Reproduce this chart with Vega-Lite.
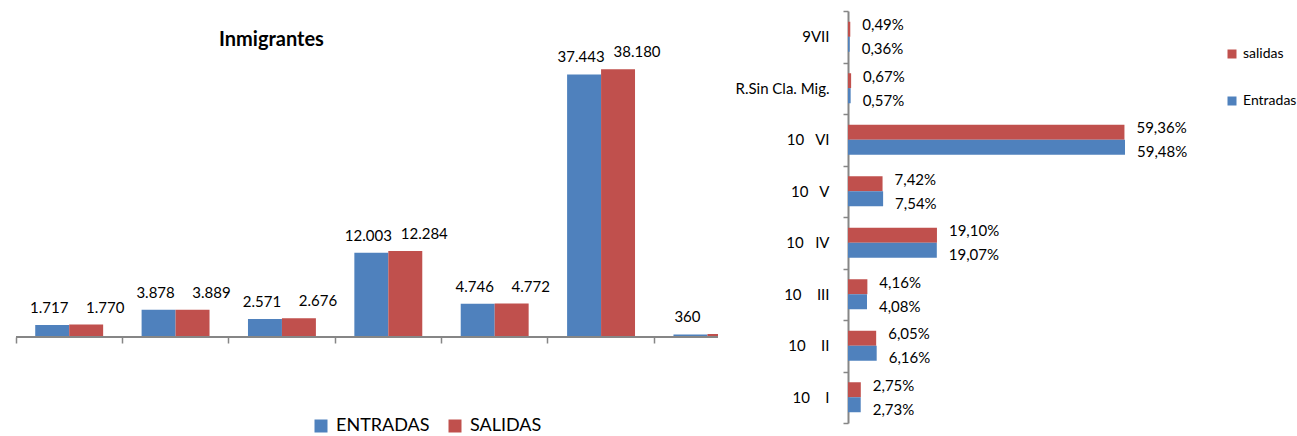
{
  "$schema": "https://vega.github.io/schema/vega-lite/v6.json",
  "padding": {"left": 15, "top": 4, "right": 0, "bottom": 0},
  "background": "white",
  "config": {
    "view": {"stroke": null},
    "font": "Lato",
    "locale": {"number": {"decimal": ",", "thousands": ".", "grouping": [3], "currency": ["", " €"]}}
  },
  "bounds": "flush",
  "spacing": 130,
  "resolve": {"scale": {"color": "independent"}, "legend": {"color": "independent"}},
  "hconcat": [
    {
      "width": 702,
      "height": 326,
      "title": {"text": "Inmigrantes", "anchor": "start", "dx": 204, "offset": -39, "fontSize": 20, "fontWeight": "bold", "font": "Lato", "color": "black"},
      "data": {"values": [
        {"grupo": "10 I", "serie": "ENTRADAS", "valor": 1717},
        {"grupo": "10 I", "serie": "SALIDAS", "valor": 1770},
        {"grupo": "10 II", "serie": "ENTRADAS", "valor": 3878},
        {"grupo": "10 II", "serie": "SALIDAS", "valor": 3889},
        {"grupo": "10 III", "serie": "ENTRADAS", "valor": 2571},
        {"grupo": "10 III", "serie": "SALIDAS", "valor": 2676},
        {"grupo": "10 IV", "serie": "ENTRADAS", "valor": 12003},
        {"grupo": "10 IV", "serie": "SALIDAS", "valor": 12284},
        {"grupo": "10 V", "serie": "ENTRADAS", "valor": 4746},
        {"grupo": "10 V", "serie": "SALIDAS", "valor": 4772},
        {"grupo": "10 VI", "serie": "ENTRADAS", "valor": 37443},
        {"grupo": "10 VI", "serie": "SALIDAS", "valor": 38180},
        {"grupo": "R.Sin Cla. Mig.", "serie": "ENTRADAS", "valor": 360},
        {"grupo": "R.Sin Cla. Mig.", "serie": "SALIDAS", "valor": 431}
      ]},
      "layer": [
        {
          "mark": {"type": "bar", "clip": true},
          "encoding": {
            "x": {"field": "grupo", "type": "nominal", "sort": null,
              "scale": {"domain": ["10 I", "10 II", "10 III", "10 IV", "10 V", "10 VI", "R.Sin Cla. Mig.", "9VII"], "range": [0, 851], "paddingInner": 0, "paddingOuter": 0},
              "axis": {"title": null, "labels": false, "domain": false, "ticks": true, "tickSize": 6, "tickColor": "#868686", "tickWidth": 1.5, "bandPosition": 0, "grid": false,
                "values": ["10 I", "10 II", "10 III", "10 IV", "10 V", "10 VI", "R.Sin Cla. Mig."]}},
            "xOffset": {"field": "serie", "type": "nominal", "scale": {"domain": ["ENTRADAS", "SALIDAS"], "paddingInner": 0, "paddingOuter": 0.566}},
            "y": {"field": "valor", "type": "quantitative", "scale": {"domain": [0, 46500], "nice": false}, "axis": null},
            "color": {"field": "serie", "type": "nominal",
              "scale": {"domain": ["ENTRADAS", "SALIDAS"], "range": ["#4F81BD", "#C0504D"]},
              "legend": {"orient": "none", "legendX": 296, "legendY": 406, "direction": "horizontal", "title": null, "symbolType": "square", "symbolSize": 169, "symbolStrokeWidth": 0, "labelFontSize": 18, "labelFont": "Lato", "labelColor": "black", "columnPadding": 16, "labelOffset": 6}}
          }
        },
        {
          "transform": [{"filter": "datum.serie == 'ENTRADAS'"}],
          "mark": {"type": "text", "clip": true, "baseline": "bottom", "dx": -3, "dy": -9, "fontSize": 15, "font": "Lato", "color": "black"},
          "encoding": {
            "x": {"field": "grupo", "type": "nominal", "sort": null},
            "xOffset": {"field": "serie", "type": "nominal"},
            "y": {"field": "valor", "type": "quantitative"},
            "text": {"field": "valor", "type": "quantitative", "format": ",.0f"}
          }
        },
        {
          "transform": [{"filter": "datum.serie == 'SALIDAS'"}],
          "mark": {"type": "text", "clip": true, "baseline": "bottom", "dx": 19, "dy": -9, "fontSize": 15, "font": "Lato", "color": "black"},
          "encoding": {
            "x": {"field": "grupo", "type": "nominal", "sort": null},
            "xOffset": {"field": "serie", "type": "nominal"},
            "y": {"field": "valor", "type": "quantitative"},
            "text": {"field": "valor", "type": "quantitative", "format": ",.0f"}
          }
        },
        {
          "data": {"values": [{"base": 0}]},
          "mark": {"type": "rule", "color": "#868686", "strokeWidth": 2},
          "encoding": {"y": {"field": "base", "type": "quantitative"}}
        }
      ]
    },
    {
      "width": 326,
      "height": 412,
      "data": {"values": [
        {"clase": "9VII", "tipo": "salidas", "pct": 0.0049},
        {"clase": "9VII", "tipo": "Entradas", "pct": 0.0036},
        {"clase": "R.Sin Cla. Mig.", "tipo": "salidas", "pct": 0.0067},
        {"clase": "R.Sin Cla. Mig.", "tipo": "Entradas", "pct": 0.0057},
        {"clase": "10\u00a0\u00a0\u00a0VI", "tipo": "salidas", "pct": 0.5936},
        {"clase": "10\u00a0\u00a0\u00a0VI", "tipo": "Entradas", "pct": 0.5948},
        {"clase": "10\u00a0\u00a0\u00a0V", "tipo": "salidas", "pct": 0.0742},
        {"clase": "10\u00a0\u00a0\u00a0V", "tipo": "Entradas", "pct": 0.0754},
        {"clase": "10\u00a0\u00a0\u00a0IV", "tipo": "salidas", "pct": 0.1910},
        {"clase": "10\u00a0\u00a0\u00a0IV", "tipo": "Entradas", "pct": 0.1907},
        {"clase": "10\u00a0\u00a0\u00a0\u00a0III", "tipo": "salidas", "pct": 0.0416},
        {"clase": "10\u00a0\u00a0\u00a0\u00a0III", "tipo": "Entradas", "pct": 0.0408},
        {"clase": "10\u00a0\u00a0\u00a0\u00a0II", "tipo": "salidas", "pct": 0.0605},
        {"clase": "10\u00a0\u00a0\u00a0\u00a0II", "tipo": "Entradas", "pct": 0.0616},
        {"clase": "10\u00a0\u00a0\u00a0\u00a0I", "tipo": "salidas", "pct": 0.0275},
        {"clase": "10\u00a0\u00a0\u00a0\u00a0I", "tipo": "Entradas", "pct": 0.0273}
      ]},
      "layer": [
        {
          "mark": {"type": "bar"},
          "encoding": {
            "y": {"field": "clase", "type": "nominal", "sort": null,
              "scale": {"paddingInner": 0, "paddingOuter": 0},
              "axis": {"title": null, "tickBand": "extent", "domainColor": "#868686", "domainWidth": 2, "tickColor": "#868686", "tickWidth": 1.5, "tickSize": 5, "labelPadding": 14, "labelFontSize": 15, "labelFont": "Lato", "labelColor": "black"}},
            "yOffset": {"field": "tipo", "type": "nominal", "scale": {"domain": ["salidas", "Entradas"], "paddingInner": 0, "paddingOuter": 0.717}},
            "x": {"field": "pct", "type": "quantitative", "scale": {"domain": [0, 0.7], "nice": false}, "axis": null},
            "color": {"field": "tipo", "type": "nominal",
              "scale": {"domain": ["salidas", "Entradas"], "range": ["#C0504D", "#4F81BD"]},
              "legend": {"orient": "none", "legendX": 377, "legendY": 36, "title": null, "symbolType": "square", "symbolSize": 81, "symbolStrokeWidth": 0, "labelFontSize": 14, "labelFont": "Lato", "labelColor": "black", "rowPadding": 33, "labelOffset": 4}}
          }
        },
        {
          "transform": [{"filter": "datum.tipo == 'salidas'"}],
          "mark": {"type": "text", "align": "left", "dx": 12, "dy": -4, "fontSize": 15, "font": "Lato", "color": "black"},
          "encoding": {
            "y": {"field": "clase", "type": "nominal", "sort": null},
            "yOffset": {"field": "tipo", "type": "nominal"},
            "x": {"field": "pct", "type": "quantitative"},
            "text": {"field": "pct", "type": "quantitative", "format": ".2%"}
          }
        },
        {
          "transform": [{"filter": "datum.tipo == 'Entradas'"}],
          "mark": {"type": "text", "align": "left", "dx": 12, "dy": 5, "fontSize": 15, "font": "Lato", "color": "black"},
          "encoding": {
            "y": {"field": "clase", "type": "nominal", "sort": null},
            "yOffset": {"field": "tipo", "type": "nominal"},
            "x": {"field": "pct", "type": "quantitative"},
            "text": {"field": "pct", "type": "quantitative", "format": ".2%"}
          }
        }
      ]
    }
  ]
}
